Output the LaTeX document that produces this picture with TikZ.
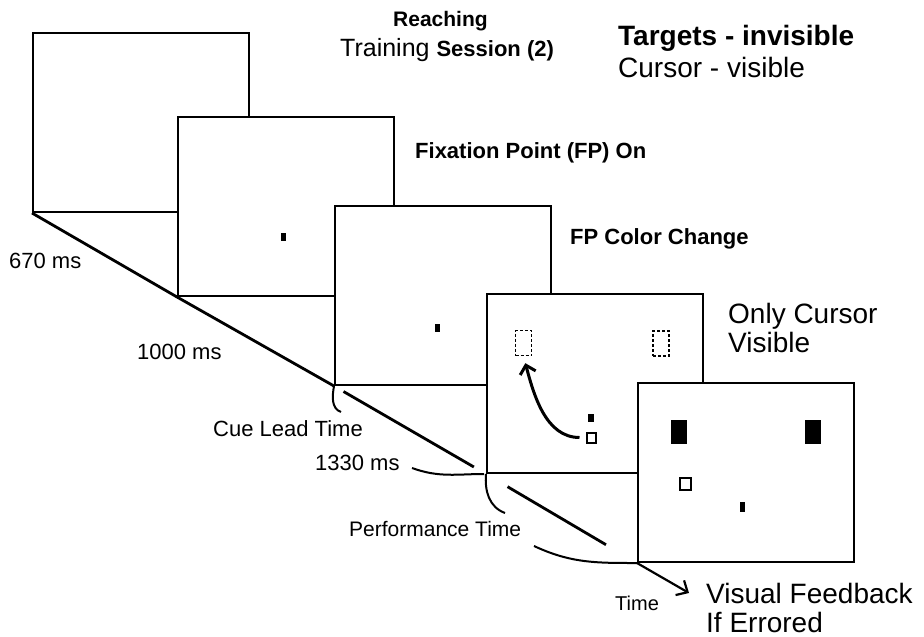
\documentclass[tikz,border=0pt]{standalone}
\usepackage{fontspec}
\setmainfont{Liberation Sans}
\usepackage{tikz}
\usetikzlibrary{positioning, calc, arrows.meta}

\begin{document}
\begin{tikzpicture}[
    x=1pt, y=-1pt,
    screen/.style={rectangle, draw=black, line width=2pt, fill=white,
                   minimum width=216pt, minimum height=179pt,
                   anchor=south west, inner sep=0pt},
    lbl/.style={anchor=base west, inner sep=0pt, font=\fontsize{#1}{#1}\selectfont},
    blbl/.style={anchor=base west, inner sep=0pt, font=\fontsize{#1}{#1}\selectfont\bfseries},
    fp/.style={rectangle, fill=black, inner sep=0pt, minimum width=5pt, minimum height=8pt},
    cursor/.style={rectangle, draw=black, line width=2pt, inner sep=0pt,
                   minimum width=9pt, minimum height=10pt},
    target/.style={rectangle, inner sep=0pt, minimum width=16pt, minimum height=24pt},
    ghost/.style={target, draw=black, line width=1.8pt, dash pattern=on 3pt off 2pt,
                  minimum width=16pt, minimum height=25pt},
    timeline/.style={line width=2.8pt},
    lead/.style={line width=2pt},
  ]
    \useasboundingbox (0,0) rectangle (924,637);

    \node[screen] (F1) at (32,213) {};
    \node[screen] (F2) at (177,297) {};
    \node[screen] (F3) at (334,386) {};
    \node[screen] (F4) at (486,474) {};
    \node[screen] (F5) at (637,563) {};

    \node[fp] (FP2) at (283,237) {};
    \node[fp] (FP3) at (437,328) {};

    \node[fp, minimum width=6pt] (FP4) at (591,418) {};
    \node[cursor] (C4) at (591,437.5) {};
    \node[ghost] (TL4) at (523.5,343) {};
    \node[ghost] (TR4) at (661,343.5) {};
    \draw[line width=3pt, shorten <=6pt, shorten >=7pt,
          -{Straight Barb[length=8pt, width=16pt]}]
          (C4.west) to[out=180, in=-75] (TL4.south);

    \node[target, fill=black] (TL5) at (679,432) {};
    \node[target, fill=black] (TR5) at (813,432) {};
    \node[cursor, minimum width=11pt, minimum height=12pt] (C5) at (685.5,484) {};
    \node[fp, minimum height=10pt] (FP5) at (742,507) {};

    \coordinate (tEnd) at (689,593);
    \draw[timeline] (F1.south west) -- (F2.south west) -- (F3.south west);
    \draw[timeline, shorten <=11pt, shorten >=14pt] (F3.south west) -- (F4.south west);
    \draw[timeline, shorten <=25pt, shorten >=36pt] (F4.south west) -- (F5.south west);
    \draw[line width=2.2pt, -{Straight Barb[length=9pt, width=17pt]}] (F5.south west) -- (tEnd);

    \coordinate (cueEnd) at (341,412);
    \coordinate (msA) at (412,468);
    \coordinate (perfEnd) at (505,513);
    \coordinate (perfA) at (534,546);
    \draw[lead] (F3.south west) to[out=-100, in=160] (cueEnd);
    \draw[lead, shorten >=2pt] (msA) to[out=-20, in=180] (F4.south west);
    \draw[lead] (F4.south west) to[out=-95, in=160] (perfEnd);
    \draw[lead] (perfA) to[out=-25, in=180] (F5.south west);

    \node[blbl=21] (reach) at (393,27) {Reaching};
    \node[lbl=25] (train) at (340,56) {Training {\fontsize{22}{22}\selectfont\bfseries Session (2)}};
    \node[blbl=28] (tgtInv) at (618,45) {Targets - invisible};
    \node[lbl=28] (curVis) at (618,77) {Cursor - visible};
    \node[blbl=22] (fpOn) at (415,158) {Fixation Point (FP) On};
    \node[blbl=22] (fpCol) at (570,244) {FP Color Change};
    \node[lbl=28] (onlyA) at (728,323) {Only Cursor};
    \node[lbl=28] (onlyB) at ([yshift=-29pt]onlyA.base west) {Visible};
    \node[lbl=28] (fbA) at (706,603) {Visual Feedback};
    \node[lbl=28] (fbB) at ([yshift=-29pt]fbA.base west) {If Errored};
    \node[lbl=20] (time) at (615,610) {Time};
    \node[lbl=21] (perf) at (349,536) {Performance Time};
    \node[lbl=22] (cue) at (213,436) {Cue Lead Time};
    \node[lbl=22] (t1330) at (315,470) {1330 ms};
    \node[lbl=22] (t1000) at (137,359) {1000 ms};
    \node[lbl=22] (t670) at (9,268) {670 ms};
  \end{tikzpicture}
\end{document}
